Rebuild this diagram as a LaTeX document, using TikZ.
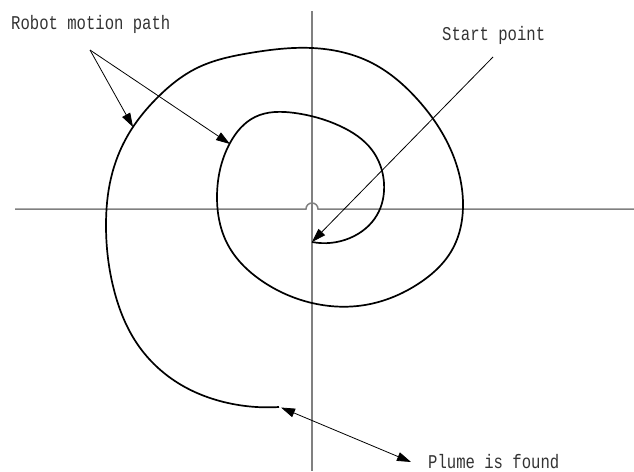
\documentclass[tikz,border=0pt]{standalone}
\usepackage{fontspec}
\setmonofont{Liberation Mono}
\usetikzlibrary{arrows.meta, hobby}

\begin{document}
\begin{tikzpicture}[
    x=1pt, y=-1pt,
    font=\ttfamily\fontsize{15.6}{18}\selectfont,
    axis/.style={draw=black!50, line width=1.5pt},
    motion/.style={draw=black, line width=1.7pt, use Hobby shortcut},
    label/.style={anchor=base west, text=black!80, inner sep=0pt, yscale=1.25, transform shape},
    pointer/.style={-{Triangle[length=14pt, width=9pt]}, draw=black, line width=0.8pt},
    twoway/.style={{Triangle[length=14pt, width=9pt]}-{Triangle[length=14pt, width=9pt]}, draw=black, line width=0.8pt}
]
    \useasboundingbox (0,0) rectangle (634,471);

    % =========================================================================
    % AXES
    % =========================================================================
    \coordinate (origin) at (312, 209);
    \draw [axis] (15, 209) -- (306, 209) arc (180:360:6) -- (634, 209);
    \draw [axis] (312, 11) -- (312, 471);

    % =========================================================================
    % ROBOT MOTION PATH (SPIRAL)
    % =========================================================================
    \coordinate (start) at (312, 242);
    \coordinate (path_end) at (279, 407);
    \draw [motion] (start) .. (350,238) .. (377,215) .. (384,183) .. (372,150)
        .. (340,126) .. (295,113) .. (255,117) .. (230,143) .. (217,197)
        .. (228,245) .. (262,281) .. (312,303) .. (365,305) .. (418,284)
        .. (452,250) .. (463,203) .. (450,148) .. (418,100) .. (370,62)
        .. (312,48) .. (250,53) .. (197,68) .. (158,97) .. (128,135)
        .. (111,178) .. (106,225) .. (114,290) .. (138,345) .. (178,383)
        .. (228,403) .. (path_end);

    % =========================================================================
    % LABELS & POINTERS
    % =========================================================================
    \node (lbl_path) [label] at (11, 29) {Robot motion path};
    \node (lbl_start) [label] at (442, 40) {Start point};
    \node (lbl_plume) [label] at (428, 468) {Plume is found};

    \coordinate (path_fan) at (90, 50);
    \coordinate (outer_tip) at (133, 127);
    \coordinate (inner_tip) at (230, 144);
    \draw [pointer] (path_fan) -- (outer_tip);
    \draw [pointer] (path_fan) -- (inner_tip);

    \coordinate (start_tail) at (493, 57);
    \draw [pointer] (start_tail) -- (start);

    \coordinate (plume_near) at (281, 407.5);
    \coordinate (plume_far) at (411, 462);
    \draw [twoway] (plume_near) -- (plume_far);

\end{tikzpicture}
\end{document}
